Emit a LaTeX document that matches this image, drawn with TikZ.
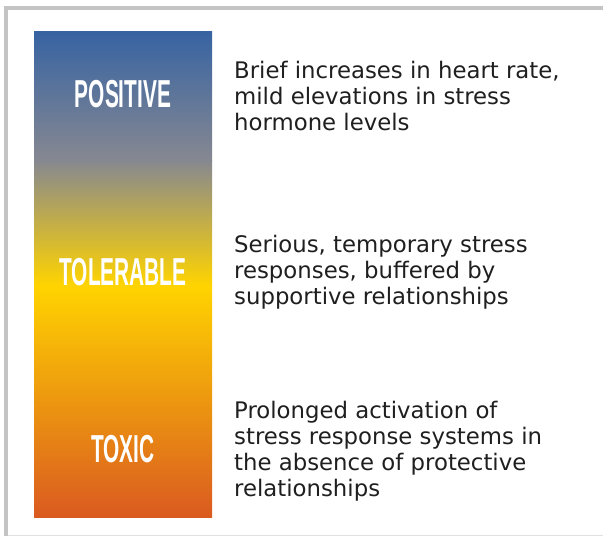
\documentclass[tikz,border=0pt]{standalone}
\usepackage{fontspec}
\setmainfont{DejaVu Sans}
\newfontfamily\labelfont{Liberation Sans}
\definecolor{barblue}{HTML}{3763A2}
\definecolor{bargray}{HTML}{868891}
\definecolor{bartan}{HTML}{C6AC58}
\definecolor{baryellow}{HTML}{FFD400}
\definecolor{barorange}{HTML}{E98C20}
\definecolor{barred}{HTML}{DA5A20}
\definecolor{framegray}{HTML}{C4C4C4}
\tikzset{
  level/.style={text=white, inner sep=0pt, font=\labelfont\bfseries\fontsize{39}{39}\selectfont},
  desc/.style={anchor=base west, inner sep=0pt, align=left, text=black!88, font=\fontsize{22.8}{26}\selectfont}
}
\newcommand{\narrow}[1]{\scalebox{0.535}[1]{#1}}
\begin{document}
\begin{tikzpicture}[x=1pt, y=-1pt]
      \useasboundingbox (0,0) rectangle (603,536);
      \draw[draw=framegray, line width=4pt] (603,8) -- (6,8) -- (6,536);
      \draw[draw=black!12, line width=1pt] (8,535.5) -- (603,535.5);
      % the bar, in shaded pieces
      \shade[top color=barblue, bottom color=bargray] (34,31) rectangle (212,160.5);
      \shade[top color=bargray, middle color=bartan, bottom color=baryellow] (34,160) rectangle (212,285.5);
      \shade[top color=baryellow, middle color=barorange, bottom color=barred] (34,285) rectangle (212,517);
      \node[level] (positive) at (123,94) {\narrow{POSITIVE}};
      \node[level] (tolerable) at (123,272) {\narrow{TOLERABLE}};
      \node[level] (toxic) at (123,449) {\narrow{TOXIC}};
      % base anchor sits on the last line
      \node[desc] (positivetext) at (234,130) {Brief increases in heart rate,\\mild elevations in stress\\hormone levels};
      \node[desc] (tolerabletext) at (234,304) {Serious, temporary stress\\responses, buffered by\\supportive relationships};
      \node[desc] (toxictext) at (234,496) {Prolonged activation of\\stress response systems in\\the absence of protective\\relationships};
    \end{tikzpicture}
\end{document}
